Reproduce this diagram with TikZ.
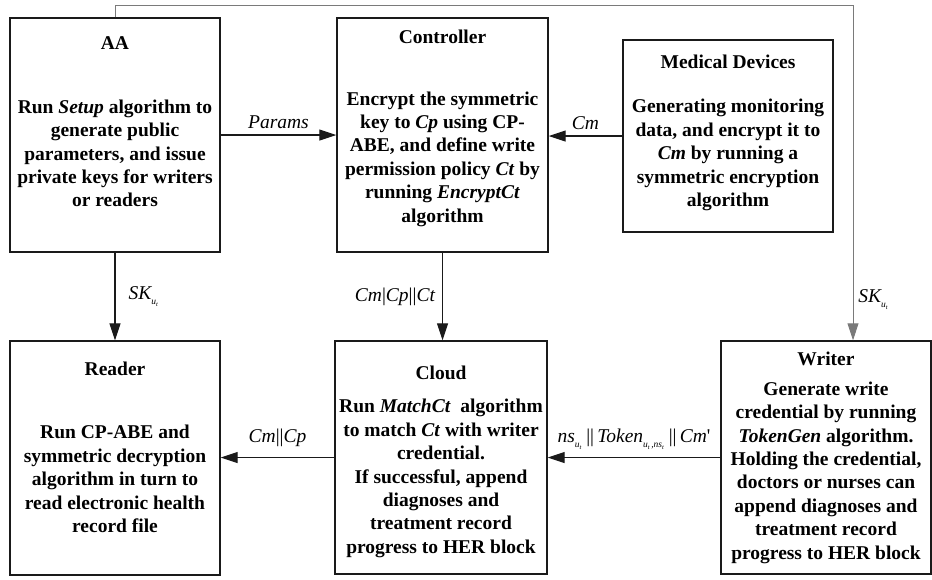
\documentclass[tikz,border=0pt]{standalone}
\usepackage{fontspec}
\setmainfont{Liberation Serif}
\usetikzlibrary{arrows.meta,positioning}
\definecolor{Frame}{HTML}{1A1A1A}
\definecolor{Link}{HTML}{7A7A7A}
\newcommand{\idx}[1]{\raisebox{-5pt}{\fontsize{9.5}{9.5}\selectfont\itshape #1}}
\newcommand{\idxx}[1]{\raisebox{-2pt}{\fontsize{6.5}{6.5}\selectfont\itshape #1}}

\begin{document}
\begin{tikzpicture}[x=1pt,y=-1pt,
  box/.style={draw=Frame,line width=1.4pt,minimum width=210pt,minimum height=234pt,inner sep=0pt},
  head/.style={font=\fontsize{19.5}{23}\selectfont\bfseries,inner sep=0pt},
  body/.style={font=\fontsize{19.5}{23.4}\selectfont\bfseries,align=center,inner sep=0pt},
  lbl/.style={font=\fontsize{19.5}{23}\selectfont\itshape,inner sep=1pt},
  flow/.style={draw=Frame,line width=1.1pt,-{Triangle[length=17pt,width=11pt]}}]
  \useasboundingbox (0,0) rectangle (932,579);
  \node[box] (aa) at (115,135) {};
  \node[box,minimum width=211pt] (ctrl) at (442.5,135) {};
  \node[box,minimum height=192pt] (med) at (728,136) {};
  \node[box] (reader) at (115,458) {};
  \node[box,minimum width=212pt,minimum height=233pt] (cloud) at (441,457.5) {};
  \node[box,minimum height=233pt] (writer) at (826,457.5) {};

  \node[head] (aahead) at (115,43) {AA};
  \node[body] (aatext) at (115,153.5) {Run \textit{Setup} algorithm to\\generate public\\parameters, and issue\\private keys for writers\\or readers};
  \node[head] (ctrlhead) at (442.5,37) {Controller};
  \node[body] (ctrltext) at (442.5,159) {Encrypt the symmetric\\key to \textit{Cp} using CP-\\ABE, and define write\\permission policy \textit{Ct} by\\running \textit{EncryptCt}\\algorithm};
  \node[head] (medhead) at (728,62) {Medical Devices};
  \node[body] (medtext) at (728,155) {Generating monitoring\\data, and encrypt it to\\\textit{Cm} by running a\\symmetric encryption\\algorithm};
  \node[head] (readerhead) at (115,369) {Reader};
  \node[body] (readertext) at (115,479) {Run CP-ABE and\\symmetric decryption\\algorithm in turn to\\read electronic health\\record file};
  \node[head] (cloudhead) at (441,373) {Cloud};
  \node[body] (cloudtext) at (441,478.5) {Run \textit{MatchCt}\ \ algorithm\\to match \textit{Ct} with writer\\credential.\\If successful, append\\diagnoses and\\treatment record\\progress to HER block};
  \node[head] (writerhead) at (826,359) {Writer};
  \node[body] (writertext) at (826,472.5) {Generate write\\credential by running\\\textit{TokenGen} algorithm.\\Holding the credential,\\doctors or nurses can\\append diagnoses and\\treatment record\\progress to HER block};

  \draw[flow] (aa.east) -- (ctrl.west) node[lbl,midway,above=5pt] {Params};
  \draw[flow] (med.west) -- (ctrl.east |- med.west) node[lbl,midway,above=5pt] {Cm};
  \draw[flow] (aa.south) -- (reader.north) node[lbl,midway,right=12pt] {SK\idx{u\idxx{t}}};
  \draw[flow] (ctrl.south) -- (ctrl.south |- cloud.north) node[lbl,midway,left=6pt] {Cm\textup{|}Cp\textup{||}Ct};
  \draw[flow] (cloud.west) -- (reader.east |- cloud.west) node[lbl,midway,above=9pt] {Cm\textup{||}Cp};
  \draw[flow] (writer.west) -- (cloud.east |- writer.west) node[lbl,midway,above=6pt] {ns\idx{u\idxx{t}}\ \textup{||}\,Token\idx{u\idxx{t}\,,ns\idxx{t}}\ \textup{||}\,Cm\textup{\textquotesingle}};
  \coordinate (skturn) at (853,5);
  \draw[flow,draw=Link,line width=0.9pt] (aa.north) |- (skturn) -- (skturn |- writer.north) node[lbl,pos=0.88,right=4pt] {SK\idx{u\idxx{t}}};
\end{tikzpicture}
\end{document}
